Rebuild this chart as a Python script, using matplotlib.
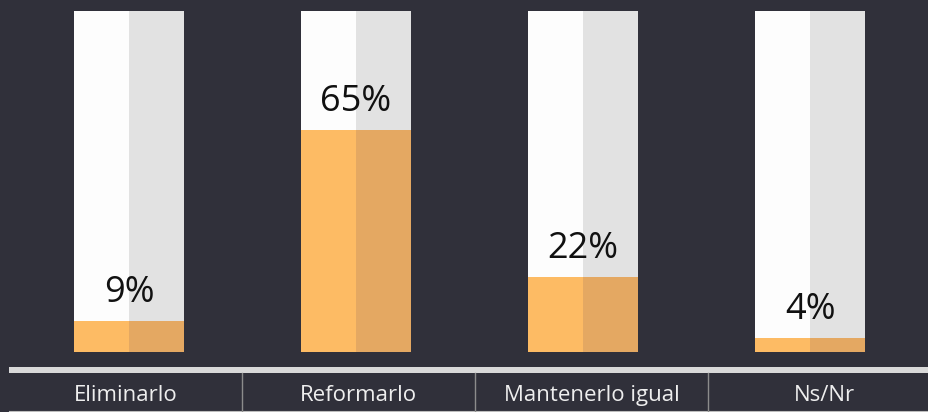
import matplotlib
matplotlib.use("Agg")
import matplotlib.pyplot as plt
from matplotlib.patches import Rectangle

categories = ["Eliminarlo", "Reformarlo", "Mantenerlo igual", "Ns/Nr"]
values = [9, 65, 22, 4]
pct_labels = ["9%", "65%", "22%", "4%"]

BG = "#30303a"
WHITE = "#fdfdfd"
GRAY = "#e2e2e2"
ORANGE = "#fdbb64"
DORANGE = "#e4a862"
LINE = "#d9d9d9"

W, H = 929, 412
fig = plt.figure(figsize=(W / 100, H / 100), dpi=100, facecolor=BG)

# bar axes: bars centered at 129 + 227*i px, bottom 352 px, top 11 px
step = 227.0
x0 = 129.0
ax = fig.add_axes([0, (H - 352) / H, 1, 341 / H])
ax.set_facecolor("none")
ax.set_xlim(-x0 / step, (W - x0) / step)
ax.set_ylim(0, 100)
ax.axis("off")

xs = list(range(len(categories)))
w = 110 / step
ax.bar([x - w / 4 for x in xs], [100] * len(xs), width=w / 2, color=WHITE, linewidth=0)
ax.bar([x + w / 4 for x in xs], [100] * len(xs), width=w / 2, color=GRAY, linewidth=0)
ax.bar([x - w / 4 for x in xs], values, width=w / 2, color=ORANGE, linewidth=0)
ax.bar([x + w / 4 for x in xs], values, width=w / 2, color=DORANGE, linewidth=0)

for x, v, lab in zip(xs, values, pct_labels):
    ax.annotate(lab, (x, v), xytext=(0, 19 * 0.72), textcoords="offset points",
                ha="center", va="baseline", fontsize=26, color="#111111",
                family="Open Sans")

# bottom table area in pixel coords
ax2 = fig.add_axes([0, 0, 1, 1])
ax2.set_facecolor("none")
ax2.set_xlim(0, W)
ax2.set_ylim(H, 0)
ax2.axis("off")

ax2.add_patch(Rectangle((9, 367), W - 9, 6, color=LINE, linewidth=0))
ax2.plot([9, W], [411.3, 411.3], color="#bdbdbd", linewidth=0.8)

bounds = [9, 242, 475, 708, 941]
for b in bounds[1:-1]:
    ax2.plot([b, b], [373, 412], color="#8c8c8c", linewidth=1.0)
for i, cat in enumerate(categories):
    cx = (bounds[i] + bounds[i + 1]) / 2
    ax2.text(cx, 401, cat, ha="center", va="baseline", fontsize=16,
             color="#eeeeee", family="Open Sans")

fig.savefig("out.png", dpi=100, facecolor=BG)
